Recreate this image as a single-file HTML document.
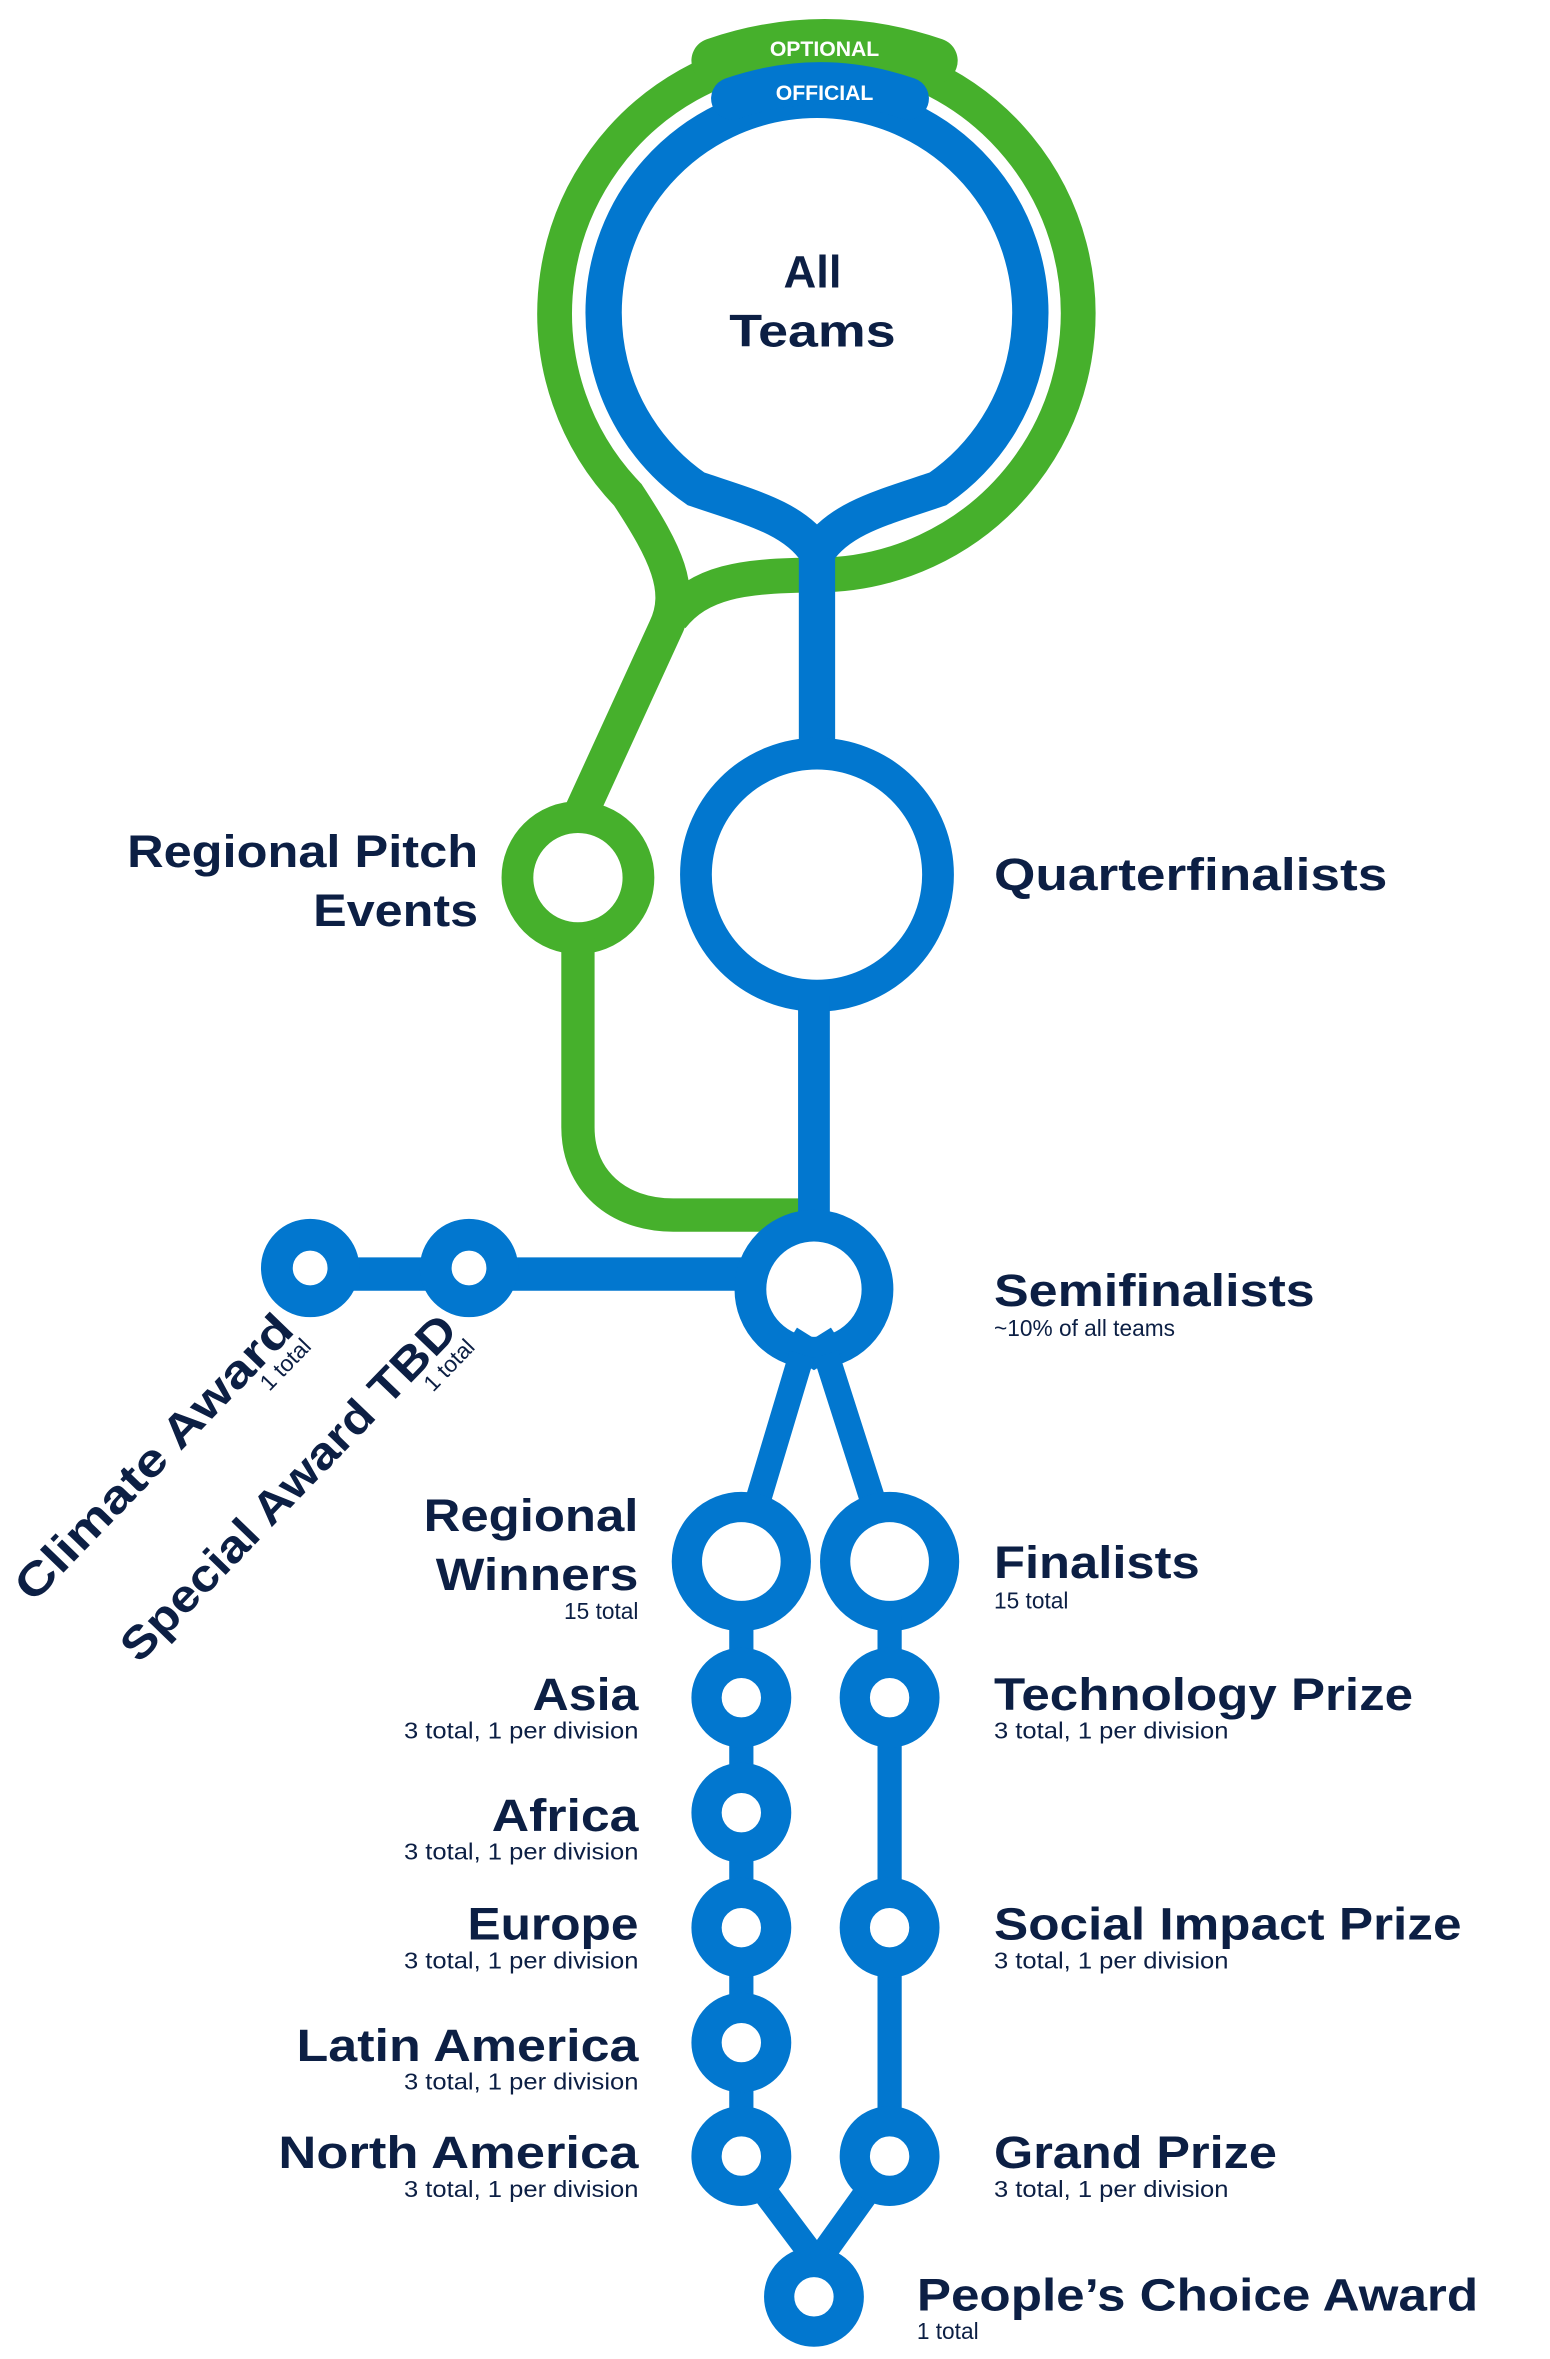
<!DOCTYPE html>
<html><head><meta charset="utf-8"><style>
html,body{margin:0;padding:0;background:#fff;}
svg{display:block;}
text{font-family:"Liberation Sans",sans-serif;fill:#0c1f44;}
.b{font-weight:bold;font-size:30px;}
.s{font-size:15px;}
</style></head><body>
<svg width="1550" height="2359" viewBox="0 0 1024.5 1559" xmlns="http://www.w3.org/2000/svg">
<g fill="none" stroke-linecap="butt">
<!-- green -->
<path d="M385,535 L440,415 C452,390 440,365 415,327 A173,173 0 1 1 540,380 C490,380 462,385 444,408" stroke="#46b02c" stroke-width="23"/>
<circle cx="382" cy="580" r="40" stroke="#46b02c" stroke-width="21" fill="#fff"/>
<path d="M382,620 L382,745 C382,780 408,803 445,803 L530,803" stroke="#46b02c" stroke-width="22"/>
<path d="M472,40 Q545,15 618,40" stroke="#46b02c" stroke-width="30" stroke-linecap="round"/>
<!-- blue top -->
<path d="M540,500 L540,365 C525,342 495,335 460,323 A141,141 0 1 1 620,323 C585,335 555,342 540,365" stroke="#0277cf" stroke-width="24"/>
<path d="M484,65 Q542,45 600,65" stroke="#0277cf" stroke-width="28" stroke-linecap="round"/>
<circle cx="540" cy="578" r="80" stroke="#0277cf" stroke-width="21"/>
<path d="M538,658 L538,815" stroke="#0277cf" stroke-width="21"/>
<!-- semifinal -->
<path d="M205,842 L500,842" stroke="#0277cf" stroke-width="22"/>
<circle cx="205" cy="838" r="22" stroke="#0277cf" stroke-width="21" fill="#fff"/>
<circle cx="310" cy="838" r="22" stroke="#0277cf" stroke-width="21" fill="#fff"/>
<circle cx="538" cy="852" r="42" stroke="#0277cf" stroke-width="21" fill="#fff"/>
<path d="M522,885 L538,895 L554,885" stroke="#0277cf" stroke-width="18"/>
<path d="M530,895 L500,995 M546,895 L578,995" stroke="#0277cf" stroke-width="17"/>
<circle cx="490" cy="1032" r="36" stroke="#0277cf" stroke-width="20"/>
<circle cx="588" cy="1032" r="36" stroke="#0277cf" stroke-width="20"/>
<path d="M490,1068 L490,1430 M588,1068 L588,1430" stroke="#0277cf" stroke-width="16"/>
<path d="M490,1428 L538,1492 M588,1428 L540,1495" stroke="#0277cf" stroke-width="17"/>
<g stroke="#0277cf" stroke-width="20" fill="#fff">
<circle cx="490" cy="1122" r="23"/><circle cx="490" cy="1198" r="23"/><circle cx="490" cy="1274" r="23"/><circle cx="490" cy="1350" r="23"/><circle cx="490" cy="1425" r="23"/>
<circle cx="588" cy="1122" r="23"/><circle cx="588" cy="1274" r="23"/><circle cx="588" cy="1425" r="23"/>
<circle cx="538" cy="1518" r="23"/>
</g>
</g>
<text x="545" y="37" text-anchor="middle" style="fill:#fff;font-weight:bold;font-size:14px">OPTIONAL</text>
<text x="545" y="66" text-anchor="middle" style="fill:#fff;font-weight:bold;font-size:14px">OFFICIAL</text>
<text class="b" x="537" y="190" text-anchor="middle">All</text>
<text class="b" x="537" y="229" text-anchor="middle" textLength="110" lengthAdjust="spacingAndGlyphs">Teams</text>
<text class="b" x="316" y="573" text-anchor="end" textLength="232" lengthAdjust="spacingAndGlyphs">Regional Pitch</text>
<text class="b" x="316" y="612" text-anchor="end" textLength="109" lengthAdjust="spacingAndGlyphs">Events</text>
<text class="b" x="657" y="588" textLength="260" lengthAdjust="spacingAndGlyphs">Quarterfinalists</text>
<text class="b" x="657" y="863" textLength="212" lengthAdjust="spacingAndGlyphs">Semifinalists</text>
<text class="s" x="657" y="883">~10% of all teams</text>
<text class="b" x="422" y="1012" text-anchor="end" textLength="142" lengthAdjust="spacingAndGlyphs">Regional</text>
<text class="b" x="422" y="1051" text-anchor="end" textLength="134" lengthAdjust="spacingAndGlyphs">Winners</text>
<text class="s" x="422" y="1070" text-anchor="end">15 total</text>
<text class="b" x="657" y="1043" textLength="136" lengthAdjust="spacingAndGlyphs">Finalists</text>
<text class="s" x="657" y="1063">15 total</text>
<g text-anchor="end">
<text class="b" x="422" y="1130" textLength="70" lengthAdjust="spacingAndGlyphs">Asia</text>
<text class="s" x="422" y="1149" textLength="155" lengthAdjust="spacingAndGlyphs">3 total, 1 per division</text>
<text class="b" x="422" y="1210" textLength="97" lengthAdjust="spacingAndGlyphs">Africa</text>
<text class="s" x="422" y="1229" textLength="155" lengthAdjust="spacingAndGlyphs">3 total, 1 per division</text>
<text class="b" x="422" y="1282" textLength="113" lengthAdjust="spacingAndGlyphs">Europe</text>
<text class="s" x="422" y="1301" textLength="155" lengthAdjust="spacingAndGlyphs">3 total, 1 per division</text>
<text class="b" x="422" y="1362" textLength="226" lengthAdjust="spacingAndGlyphs">Latin America</text>
<text class="s" x="422" y="1381" textLength="155" lengthAdjust="spacingAndGlyphs">3 total, 1 per division</text>
<text class="b" x="422" y="1433" textLength="238" lengthAdjust="spacingAndGlyphs">North America</text>
<text class="s" x="422" y="1452" textLength="155" lengthAdjust="spacingAndGlyphs">3 total, 1 per division</text>
</g>
<text class="b" x="657" y="1130" textLength="277" lengthAdjust="spacingAndGlyphs">Technology Prize</text>
<text class="s" x="657" y="1149" textLength="155" lengthAdjust="spacingAndGlyphs">3 total, 1 per division</text>
<text class="b" x="657" y="1282" textLength="309" lengthAdjust="spacingAndGlyphs">Social Impact Prize</text>
<text class="s" x="657" y="1301" textLength="155" lengthAdjust="spacingAndGlyphs">3 total, 1 per division</text>
<text class="b" x="657" y="1433" textLength="187" lengthAdjust="spacingAndGlyphs">Grand Prize</text>
<text class="s" x="657" y="1452" textLength="155" lengthAdjust="spacingAndGlyphs">3 total, 1 per division</text>
<text class="b" x="606" y="1527" textLength="371" lengthAdjust="spacingAndGlyphs">People’s Choice Award</text>
<text class="s" x="606" y="1546">1 total</text>
<g transform="translate(22,1060) rotate(-46)">
<text class="b" x="0" y="0" textLength="250" lengthAdjust="spacingAndGlyphs">Climate Award</text>
<text class="s" x="250" y="15" text-anchor="end">1 total</text>
</g>
<g transform="translate(92,1100) rotate(-46)">
<text class="b" x="0" y="0" textLength="305" lengthAdjust="spacingAndGlyphs">Special Award TBD</text>
<text class="s" x="305" y="15" text-anchor="end">1 total</text>
</g>
</svg>
</body></html>
